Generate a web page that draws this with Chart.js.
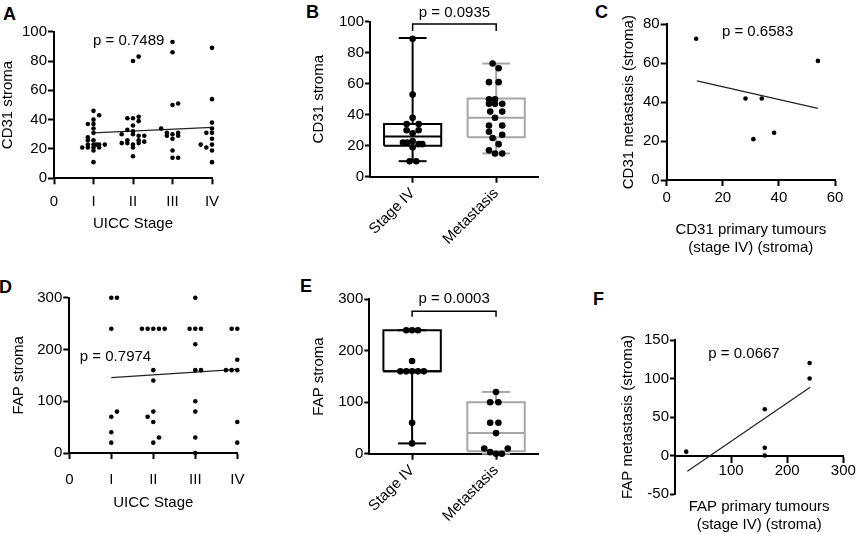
<!DOCTYPE html>
<html>
<head>
<meta charset="utf-8">
<script src="https://cdn.jsdelivr.net/npm/chart.js@4.4.1/dist/chart.umd.min.js"></script>
<style>
  body { margin: 0; background: #fff; }
  #wrap { position: relative; width: 858px; height: 534px; overflow: hidden; font-family: "Liberation Sans", Arial, sans-serif; }
  #wrap canvas { position: absolute; }
  .tag { position: absolute; font-weight: bold; font-size: 18px; line-height: 18px; color: #000; }
</style>
</head>
<body>
<div id="wrap">
  <div class="tag" style="left:3px;top:5px">A</div>
  <div class="tag" style="left:306px;top:3px">B</div>
  <div class="tag" style="left:595px;top:3px">C</div>
  <div class="tag" style="left:-1px;top:278px">D</div>
  <div class="tag" style="left:300px;top:277px">E</div>
  <div class="tag" style="left:593px;top:290px">F</div>
</div>
<script>
// tick labels
const stageLabels = ["0", "I", "II", "III", "IV"];
const groupLabels = ["Stage IV", "Metastasis"];
const pValues = ["0.7489", "0.0935", "0.6583", "0.7974", "0.0003", "0.6667".replace("0.6667", "0.0667")];

// A: CD31 stroma per UICC stage (values) and dot offsets inside each column
const cd31StageI = [46, 43, 40, 37, 37, 34, 31, 28, 26, 26, 23, 23, 23, 23, 23, 21, 21, 21, 21, 19, 11];
const cd31StageIJit = [0, 1, 0, -1, 0, 0, 0, -1, -1, 0, -1, 0, 0.5, 1, 2, -2, -1, 0, 1, 0, 0];
const cd31StageII = [83, 80, 42, 41, 41, 39, 36, 33, 32, 30, 30, 29, 29, 26, 26, 25, 24, 24, 24, 23, 21, 15];
const cd31StageIIJit = [1, 0, 1, -1, 0, 1, 0, -1, 0, -2, 0, 1, 2, -1, 1, 2, -2, -1, 1, 0, 0, 0];
const cd31StageIII = [93, 86, 51, 50, 34, 31, 31, 30, 29, 29, 27, 19, 14, 14];
const cd31StageIIIJit = [0, 0, 1, 0, -2, -1, 1, 0, -1, 1, 0, 0, 0, 1];
const cd31StageIV = [89, 54, 38, 34, 31, 31, 27, 23, 23, 21, 19, 11];
const cd31StageIVJit = [0, 0, 0, 0, -1, 0, 0, -2, 0, -1, 0, 0];
const cd31StageFit = [[1, 31], [4, 34.8]];

// B: CD31 stroma, primary stage IV vs metastasis
const cd31Primary = [89, 53, 38, 34, 34, 30, 30, 28, 22, 22, 23, 21, 21, 19, 10, 10];
const cd31PrimaryJit = [0, 0, 0, -1, 1, -1, 1, 0, -1.6, -0.9, 0, 1, 1.6, 0, -0.5, 0.6];
const cd31Met = [73, 70, 61, 61, 50, 50, 47, 47, 47, 42, 42, 38, 33, 33, 29, 27, 25, 21, 17, 15, 15];
const cd31MetJit = [-0.6, 0.4, -1.2, 0.4, -1.2, -0.2, -1.2, -0.2, 1, -1, 1, -0.2, -1.2, 1, -1.2, 1, -0.6, 0.4, -1.2, -0.2, 1];
// min, q1, median, q3, max
const cd31PrimaryBox = [10, 20, 26, 34, 89.5];
const cd31MetBox = [15, 25.5, 38, 50.5, 73];

// C: paired CD31 primary (x) vs metastasis (y)
const cd31PairPrimary = [10.5, 53.9, 28.1, 33.9, 30.9, 38.3];
const cd31PairMet = [72.6, 61.2, 41.9, 41.9, 21, 24.3];
const cd31PairFit = [[10.8, 50.9], [53.9, 36.8]];

// D: FAP stroma per UICC stage
const fapStageI = [300, 300, 240, 80, 70, 40, 20];
const fapStageIJit = [0, 1, 0, 1, 0, 0, 0];
const fapStageII = [240, 240, 240, 240, 240, 160, 140, 80, 70, 60, 30, 20];
const fapStageIIJit = [-2, -1, 0, 1, 2, 0, 0, 0, -1, 0, 1, 0];
const fapStageIII = [300, 240, 240, 240, 210, 160, 160, 100, 80, 30, 0];
const fapStageIIIJit = [0, -1, 0, 1, 0, 0, 1, 0, 0, 0, 0];
const fapStageIV = [240, 240, 180, 160, 160, 160, 60, 20];
const fapStageIVJit = [-1, 0, 0, -2, -1, 0, 0, 0];
const fapStageFit = [[1, 145.5], [4, 161.6]];

// E: FAP stroma, primary stage IV vs metastasis
const fapPrimary = [240, 240, 240, 180, 160, 160, 160, 160, 160, 60, 20];
const fapPrimaryJit = [-1, 0, 1, 0, -2, -1, 0, 1, 2, 0, 0];
const fapMet = [120, 100, 100, 60, 60, 40, 10, 3, 0, 0, 10];
const fapMetJit = [0, -1, 0.4, -1, 0.4, 0, -2, -1, 0, 1, 2];
const fapPrimaryBox = [20, 160, 160, 240, 240];
const fapMetBox = [0, 5, 40, 100, 120];

// F: paired FAP primary (x) vs metastasis (y)
const fapPairPrimary = [20, 160, 160, 160, 240, 240];
const fapPairMet = [5, 60, 10, 0, 120, 100];
const fapPairFit = [[22, -20.3], [241, 88.6]];

const FONT = "Liberation Sans";
const tickFont = { family: FONT, size: 15 };
const wrap = document.getElementById("wrap");

function columnDots(center, values, jit, step) {
  return values.map((v, i) => ({ x: center + jit[i] * step, y: v }));
}
function pairDots(xs, ys) {
  return xs.map((x, i) => ({ x: x, y: ys[i] }));
}
function dotSet(data, r) {
  return { data: data, pointRadius: r, pointHoverRadius: r, pointBackgroundColor: "#000", pointBorderWidth: 0, showLine: false, clip: false };
}
function lineSet(pts, color, width) {
  return {
    data: pts.map(p => ({ x: p[0], y: p[1] })), showLine: true, pointRadius: 0, pointHoverRadius: 0,
    borderColor: color, borderWidth: width, clip: false, tension: 0, borderCapStyle: "butt", borderJoinStyle: "miter"
  };
}
function boxSets(c, box, color) {
  const w = 0.342, cw = 0.167;
  const [lo, q1, med, q3, hi] = box;
  return [
    lineSet([[c - w, q1], [c + w, q1], [c + w, q3], [c - w, q3], [c - w, q1]], color, 2),
    lineSet([[c - w, med], [c + w, med]], color, 2),
    lineSet([[c, lo], [c, q1]], color, 2),
    lineSet([[c, q3], [c, hi]], color, 2),
    lineSet([[c - cw, lo], [c + cw, lo]], color, 2),
    lineSet([[c - cw, hi], [c + cw, hi]], color, 2)
  ];
}

const pTextPlugin = {
  id: "pText",
  afterDatasetsDraw(chart, args, opts) {
    if (!opts.text) return;
    const { ctx, scales } = chart;
    ctx.save();
    ctx.font = "15px '" + FONT + "'";
    ctx.fillStyle = "#000";
    ctx.textAlign = "center";
    ctx.textBaseline = "middle";
    ctx.fillText(opts.text, scales.x.getPixelForValue(opts.at[0]), scales.y.getPixelForValue(opts.at[1]));
    ctx.restore();
  }
};

function axis(o) {
  const a = {
    type: "linear",
    min: o.min, max: o.max,
    border: { display: true, color: "#000", width: 2 },
    grid: { display: true, drawOnChartArea: false, drawTicks: true, tickLength: o.tl || 6, tickWidth: 2, tickColor: "#000" },
    ticks: {
      color: "#000", font: tickFont, padding: o.pad, autoSkip: false,
      stepSize: o.step, maxRotation: o.rot || 0, minRotation: o.rot || 0,
      callback: o.labels ? (v) => o.labels[v] : (v) => v
    },
    title: { display: true, text: o.title, color: "#000", font: tickFont, padding: o.titlePad }
  };
  if (o.only) a.afterBuildTicks = (s) => { s.ticks = o.only.map(v => ({ value: v })); };
  if (o.position) a.position = o.position;
  return a;
}

function panel(p) {
  const cv = document.createElement("canvas");
  cv.width = p.box[2];
  cv.height = p.box[3];
  cv.style.left = p.box[0] + "px";
  cv.style.top = p.box[1] + "px";
  wrap.appendChild(cv);
  const yw = p.area[0] - p.box[0];
  const padTop = p.area[1] - p.box[1];
  const padRight = p.box[0] + p.box[2] - p.area[2];
  const below = p.box[1] + p.box[3] - p.area[3];
  p.x.afterFit = (s) => { s.height = p.xHeight || below; };
  p.y.afterFit = (s) => { s.width = yw; };
  new Chart(cv, {
    type: "scatter",
    data: { datasets: p.datasets },
    options: {
      responsive: false,
      animation: false,
      events: [],
      layout: { padding: { top: padTop, right: padRight, left: 0, bottom: p.xHeight ? below : 0 } },
      plugins: { legend: { display: false }, tooltip: { enabled: false }, pText: { text: p.pText, at: p.pAt } },
      scales: { x: p.x, y: p.y }
    },
    plugins: [pTextPlugin]
  });
}

// A
panel({
  box: [0, 0, 285, 240], area: [54, 31.7, 212, 178.3],
  datasets: [
    dotSet([].concat(
      columnDots(1, cd31StageI, cd31StageIJit, 0.143),
      columnDots(2, cd31StageII, cd31StageIIJit, 0.143),
      columnDots(3, cd31StageIII, cd31StageIIIJit, 0.143),
      columnDots(4, cd31StageIV, cd31StageIVJit, 0.143)), 2.3),
    lineSet(cd31StageFit, "#222", 1.2)
  ],
  x: axis({ min: 0, max: 4, step: 1, labels: stageLabels, pad: 9, title: "UICC Stage", titlePad: { top: 0, bottom: 7 } }),
  y: axis({ min: 0, max: 100, step: 20, pad: 1, title: "CD31 stroma", titlePad: { top: -1, bottom: 0 } }),
  pText: "p = " + pValues[0], pAt: [1.89, 93.8]
});

// B
panel({
  box: [285, 0, 285, 267], area: [370, 21.7, 538, 176.7],
  datasets: [
    dotSet(columnDots(0, cd31Primary, cd31PrimaryJit, 0.072), 3.3),
    dotSet(columnDots(1, cd31Met, cd31MetJit, 0.072), 3.3),
    ...boxSets(0, cd31PrimaryBox, "#000"),
    ...boxSets(1, cd31MetBox, "#a6a6a6"),
    lineSet([[0, 94], [0, 98.5], [1, 98.5], [1, 94]], "#000", 1.5)
  ],
  x: axis({ min: -0.51, max: 1.5, only: [0, 1], labels: groupLabels, pad: 2, rot: 45, title: "" }),
  y: axis({ min: 0, max: 100, step: 20, pad: 1, tl: 5, title: "CD31 stroma", titlePad: { top: 25, bottom: 0 } }),
  pText: "p = " + pValues[1], pAt: [0.5, 105.4]
});

// C
panel({
  box: [570, 0, 288, 267], area: [666.7, 24.3, 835, 180],
  datasets: [
    dotSet(pairDots(cd31PairPrimary, cd31PairMet), 2.3),
    lineSet(cd31PairFit, "#222", 1.2)
  ],
  x: axis({ min: 0, max: 60, step: 20, pad: 3, title: ["CD31 primary tumours", "(stage IV) (stroma)"], titlePad: { top: 0, bottom: 10 } }),
  y: axis({ min: 0, max: 80, step: 20, pad: 1, title: "CD31 metastasis (stroma)", titlePad: { top: 49.5, bottom: 0 } }),
  pText: "p = " + pValues[2], pAt: [32.4, 76.2]
});

// D
panel({
  box: [0, 267, 285, 267], area: [69.3, 297.7, 237.3, 453],
  datasets: [
    dotSet([].concat(
      columnDots(1, fapStageI, fapStageIJit, 0.135),
      columnDots(2, fapStageII, fapStageIIJit, 0.135),
      columnDots(3, fapStageIII, fapStageIIIJit, 0.135),
      columnDots(4, fapStageIV, fapStageIVJit, 0.135)), 2.3),
    lineSet(fapStageFit, "#222", 1.2)
  ],
  x: axis({ min: 0, max: 4, step: 1, labels: stageLabels, pad: 11.5, title: "UICC Stage", titlePad: { top: 0, bottom: 21.7 } }),
  y: axis({ min: 0, max: 300, step: 100, pad: 1, title: "FAP stroma", titlePad: { top: 10, bottom: 0 } }),
  pText: "p = " + pValues[3], pAt: [1.1, 186]
});

// E
panel({
  box: [285, 267, 285, 267], area: [369.3, 299.3, 538, 453.7],
  datasets: [
    dotSet(columnDots(0, fapPrimary, fapPrimaryJit, 0.07), 3.3),
    dotSet(columnDots(1, fapMet, fapMetJit, 0.07), 3.3),
    ...boxSets(0, fapPrimaryBox, "#000"),
    ...boxSets(1, fapMetBox, "#a6a6a6"),
    lineSet([[0, 266], [0, 277], [1, 277], [1, 266]], "#000", 1.5)
  ],
  x: axis({ min: -0.51, max: 1.5, only: [0, 1], labels: groupLabels, pad: 2, rot: 45, title: "" }),
  y: axis({ min: 0, max: 300, step: 100, pad: 1, tl: 5, title: "FAP stroma", titlePad: { top: 25, bottom: 0 } }),
  pText: "p = " + pValues[4], pAt: [0.5, 300]
});

// F
panel({
  box: [570, 267, 288, 267], area: [675, 340, 843.3, 494], xHeight: 80,
  datasets: [
    dotSet(pairDots(fapPairPrimary, fapPairMet), 2.3),
    lineSet(fapPairFit, "#222", 1.2)
  ],
  x: axis({ min: 0, max: 300, only: [100, 200, 300], pad: 0, position: { y: 0 }, title: ["FAP primary tumours", "(stage IV) (stroma)"], titlePad: { top: 0, bottom: 1.7 } }),
  y: axis({ min: -50, max: 150, step: 50, pad: 1, tl: 5, title: "FAP metastasis (stroma)", titlePad: { top: 48.5, bottom: 0 } }),
  pText: "p = " + pValues[5], pAt: [123, 131.5]
});
</script>
</body>
</html>
